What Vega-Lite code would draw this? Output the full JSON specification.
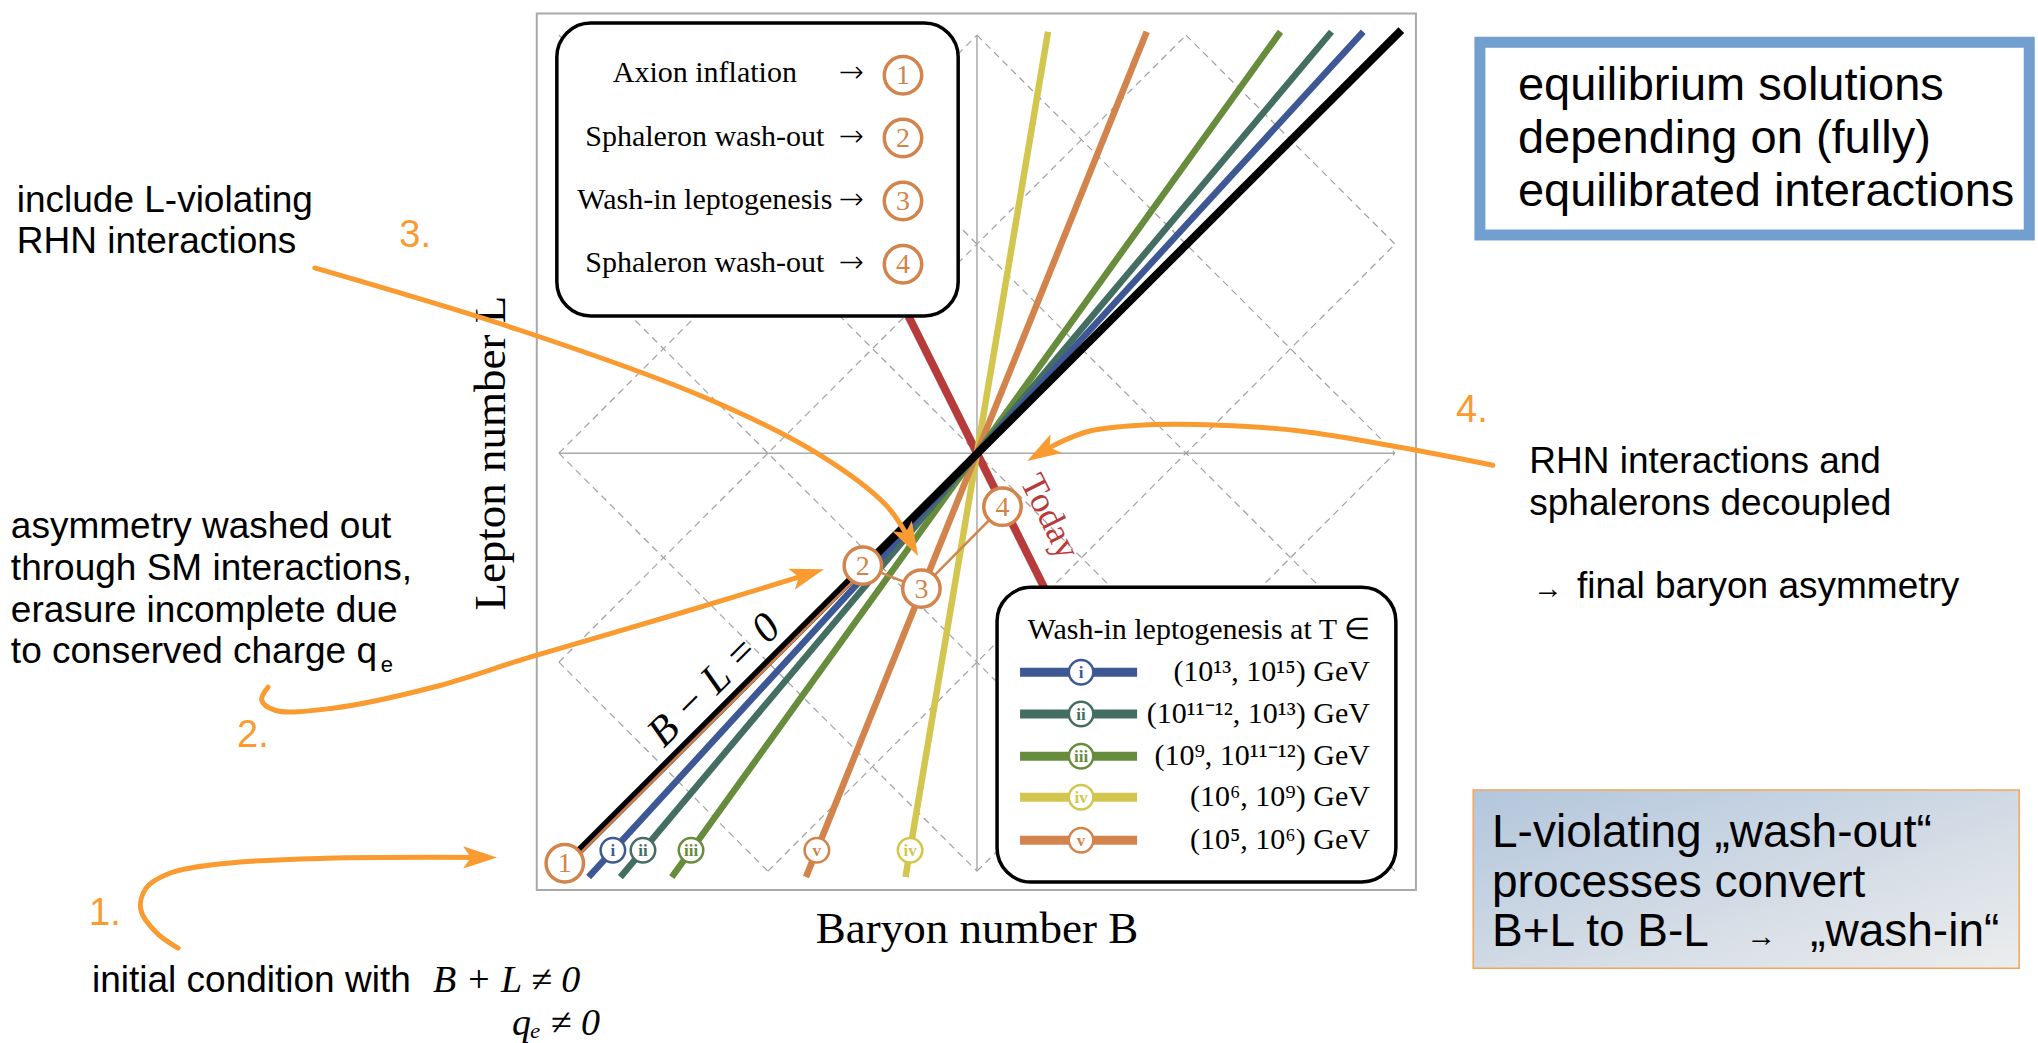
{
"$schema": "https://vega.github.io/schema/vega-lite/v6.json",
"width": 2038, "height": 1043, "autosize": {"type": "none"}, "padding": 0,
"background": "white",
"config": {"view": {"stroke": null}},
"datasets": {
 "frame": [{"x": -1.053, "x2": 1.05, "y": -1.045, "y2": 1.052}],
 "axes": [{"x": -1, "y": 0, "x2": 1, "y2": 0}, {"x": 0, "y": -1, "x2": 0, "y2": 1}],
 "grid": [
  {"x": -1, "y": -0.5, "x2": -0.5, "y2": -1}, {"x": -1, "y": 0, "x2": 0, "y2": -1}, {"x": -1, "y": 0.5, "x2": 0.5, "y2": -1}, {"x": -1, "y": 1, "x2": 1, "y2": -1}, {"x": -0.5, "y": 1, "x2": 1, "y2": -0.5}, {"x": 0, "y": 1, "x2": 1, "y2": 0}, {"x": 0.5, "y": 1, "x2": 1, "y2": 0.5},
  {"x": -1, "y": 0.5, "x2": -0.5, "y2": 1}, {"x": -1, "y": 0, "x2": 0, "y2": 1}, {"x": -1, "y": -0.5, "x2": 0.5, "y2": 1}, {"x": -1, "y": -1, "x2": 1, "y2": 1}, {"x": -0.5, "y": -1, "x2": 1, "y2": 0.5}, {"x": 0, "y": -1, "x2": 1, "y2": 0}, {"x": 0.5, "y": -1, "x2": 1, "y2": -0.5}
 ],
 "today": [{"x": -0.24, "y": 0.48, "x2": 0.24, "y2": -0.48}],
 "wash": [
  {"s": "iv", "x": -0.171, "y": -1.014, "x2": 0.170, "y2": 1.008},
  {"s": "v", "x": -0.409, "y": -1.014, "x2": 0.406, "y2": 1.008},
  {"s": "iii", "x": -0.730, "y": -1.014, "x2": 0.726, "y2": 1.008},
  {"s": "ii", "x": -0.853, "y": -1.014, "x2": 0.848, "y2": 1.008},
  {"s": "i", "x": -0.929, "y": -1.014, "x2": 0.924, "y2": 1.008}
 ],
 "bl0": [{"x": -0.99, "y": -0.99, "x2": 1.015, "y2": 1.012}],
 "boxes": [{"x": -1.005, "x2": -0.045, "y": 0.328, "y2": 1.029}, {"x": 0.048, "x2": 1.002, "y": -1.026, "y2": -0.321}],
 "path": [
  {"x": -0.966, "y": -0.974, "x2": -0.266, "y2": -0.276},
  {"x": -0.273, "y": -0.269, "x2": -0.133, "y2": -0.324},
  {"x": -0.133, "y": -0.324, "x2": 0.061, "y2": -0.128}
 ],
 "steps": [
  {"x": -0.986, "y": -0.981, "n": "1"}, {"x": -0.273, "y": -0.269, "n": "2"}, {"x": -0.133, "y": -0.324, "n": "3"}, {"x": 0.061, "y": -0.128, "n": "4"},
  {"x": -0.177, "y": 0.904, "n": "1"}, {"x": -0.177, "y": 0.754, "n": "2"}, {"x": -0.177, "y": 0.603, "n": "3"}, {"x": -0.177, "y": 0.452, "n": "4"}
 ],
 "legendlines": [
  {"s": "i", "x": 0.103, "x2": 0.383, "y": -0.524}, {"s": "ii", "x": 0.103, "x2": 0.383, "y": -0.624}, {"s": "iii", "x": 0.103, "x2": 0.383, "y": -0.725}, {"s": "iv", "x": 0.103, "x2": 0.383, "y": -0.823}, {"s": "v", "x": 0.103, "x2": 0.383, "y": -0.926}
 ],
 "marks": [
  {"x": -0.871, "y": -0.95, "s": "i"}, {"x": -0.799, "y": -0.95, "s": "ii"}, {"x": -0.684, "y": -0.95, "s": "iii"}, {"x": -0.383, "y": -0.95, "s": "v"}, {"x": -0.16, "y": -0.95, "s": "iv"},
  {"x": 0.249, "y": -0.524, "s": "i"}, {"x": 0.249, "y": -0.624, "s": "ii"}, {"x": 0.249, "y": -0.725, "s": "iii"}, {"x": 0.249, "y": -0.823, "s": "iv"}, {"x": 0.249, "y": -0.926, "s": "v"}
 ],
 "steptexts": [
  {"x": -0.651, "y": 0.909, "t": "Axion inflation"}, {"x": -0.651, "y": 0.756, "t": "Sphaleron wash-out"}, {"x": -0.651, "y": 0.605, "t": "Wash-in leptogenesis"}, {"x": -0.651, "y": 0.455, "t": "Sphaleron wash-out"}
 ],
 "steparrows": [
  {"x": -0.301, "y": 0.909, "t": "→"}, {"x": -0.301, "y": 0.756, "t": "→"}, {"x": -0.301, "y": 0.605, "t": "→"}, {"x": -0.301, "y": 0.455, "t": "→"}
 ],
 "ranges": [
  {"x": 0.94, "y": -0.524, "t": "(10¹³, 10¹⁵) GeV"},
  {"x": 0.94, "y": -0.624, "t": "(10¹¹⁻¹², 10¹³) GeV"},
  {"x": 0.94, "y": -0.725, "t": "(10⁹, 10¹¹⁻¹²) GeV"},
  {"x": 0.94, "y": -0.823, "t": "(10⁶, 10⁹) GeV"},
  {"x": 0.94, "y": -0.926, "t": "(10⁵, 10⁶) GeV"}
 ],
 "rtitle": [{"x": 0.94, "y": -0.423, "t": "Wash-in leptogenesis at T ∈"}],
 "todaylabel": [{"x": 0.174, "y": -0.152, "t": "Today"}],
 "bllabel": [{"x": -0.629, "y": -0.543, "t": "B − L = 0"}],
 "xlabel": [{"x": 0, "y": -1.139, "t": "Baryon number B"}],
 "ylabel": [{"x": -1.163, "y": 0, "t": "Lepton number L"}],
 "notes": [
  {"x": -2.297, "y": 0.577, "t": "include L-violating"},
  {"x": -2.297, "y": 0.478, "t": "RHN interactions"},
  {"x": -2.311, "y": -0.203, "t": "asymmetry washed out"},
  {"x": -2.311, "y": -0.304, "t": "through SM interactions,"},
  {"x": -2.311, "y": -0.404, "t": "erasure incomplete due"},
  {"x": -2.311, "y": -0.502, "t": "to conserved charge q"},
  {"x": -2.117, "y": -1.289, "t": "initial condition with"},
  {"x": 1.321, "y": -0.048, "t": "RHN interactions and"},
  {"x": 1.321, "y": -0.148, "t": "sphalerons decoupled"},
  {"x": 1.435, "y": -0.347, "t": "final baryon asymmetry"}
 ],
 "subs": [{"x": -1.426, "y": -0.524, "t": "e"}],
 "smallarrows": [{"x": 1.33, "y": -0.347, "t": "→"}, {"x": 1.84, "y": -1.179, "t": "→"}],
 "math": [{"x": -1.301, "y": -1.289, "t": "B + L ≠ 0"}],
 "math2": [{"x": -0.902, "y": -1.392, "t": "qₑ ≠ 0"}],
 "bluebox": [{"x": 1.203, "x2": 2.517, "y": 0.522, "y2": 0.983}],
 "bluetexts": [
  {"x": 1.294, "y": 0.844, "t": "equilibrium solutions"},
  {"x": 1.294, "y": 0.718, "t": "depending on (fully)"},
  {"x": 1.294, "y": 0.591, "t": "equilibrated interactions"}
 ],
 "gradbox": [{"x": 1.187, "x2": 2.493, "y": -1.232, "y2": -0.806}],
 "gradtexts": [
  {"x": 1.232, "y": -0.943, "t": "L-violating „wash-out“"},
  {"x": 1.232, "y": -1.062, "t": "processes convert"},
  {"x": 1.232, "y": -1.179, "t": "B+L to B-L"},
  {"x": 1.993, "y": -1.179, "t": "„wash-in“"}
 ],
 "curves": [
  {"a": 1, "i": 0, "x": -1.911, "y": -1.184}, {"a": 1, "i": 1, "x": -1.962, "y": -1.148}, {"a": 1, "i": 2, "x": -2.0, "y": -1.093}, {"a": 1, "i": 3, "x": -1.988, "y": -1.041}, {"a": 1, "i": 4, "x": -1.931, "y": -1.005}, {"a": 1, "i": 5, "x": -1.794, "y": -0.981}, {"a": 1, "i": 6, "x": -1.555, "y": -0.969}, {"a": 1, "i": 7, "x": -1.189, "y": -0.967},
  {"a": 2, "i": 0, "x": -1.696, "y": -0.56}, {"a": 2, "i": 1, "x": -1.711, "y": -0.591}, {"a": 2, "i": 2, "x": -1.679, "y": -0.615}, {"a": 2, "i": 3, "x": -1.541, "y": -0.61}, {"a": 2, "i": 4, "x": -1.301, "y": -0.56}, {"a": 2, "i": 5, "x": -1.069, "y": -0.488}, {"a": 2, "i": 6, "x": -0.711, "y": -0.383}, {"a": 2, "i": 7, "x": -0.411, "y": -0.292},
  {"a": 3, "i": 0, "x": -1.584, "y": 0.443}, {"a": 3, "i": 1, "x": -1.093, "y": 0.294}, {"a": 3, "i": 2, "x": -0.658, "y": 0.136}, {"a": 3, "i": 3, "x": -0.383, "y": 0.0}, {"a": 3, "i": 4, "x": -0.218, "y": -0.124}, {"a": 3, "i": 5, "x": -0.165, "y": -0.201},
  {"a": 4, "i": 0, "x": 1.234, "y": -0.029}, {"a": 4, "i": 1, "x": 1.012, "y": 0.014}, {"a": 4, "i": 2, "x": 0.773, "y": 0.053}, {"a": 4, "i": 3, "x": 0.579, "y": 0.067}, {"a": 4, "i": 4, "x": 0.39, "y": 0.067}, {"a": 4, "i": 5, "x": 0.27, "y": 0.053}, {"a": 4, "i": 6, "x": 0.199, "y": 0.026}, {"a": 4, "i": 7, "x": 0.156, "y": 0.002}
 ],
 "heads": [
  {"a": 1, "x": -1.148, "y": -0.967}, {"a": 2, "x": -0.366, "y": -0.278}, {"a": 3, "x": -0.141, "y": -0.246}, {"a": 4, "x": 0.12, "y": -0.019}
 ],
 "nums": [
  {"x": -2.086, "y": -1.103, "t": "1."}, {"x": -1.732, "y": -0.677, "t": "2."}, {"x": -1.344, "y": 0.519, "t": "3."}, {"x": 1.184, "y": 0.1, "t": "4."}
 ]
},
"encoding": {
 "x": {"field": "x", "type": "quantitative", "scale": {"domain": [-2.337, 2.538], "nice": false, "zero": false}, "axis": null},
 "y": {"field": "y", "type": "quantitative", "scale": {"domain": [-1.411, 1.084], "nice": false, "zero": false}, "axis": null}
},
"layer": [
 {"data": {"name": "frame"}, "mark": {"type": "rect", "filled": false, "stroke": "#a9a9a9", "strokeWidth": 2}, "encoding": {"x2": {"field": "x2"}, "y2": {"field": "y2"}}},
 {"data": {"name": "axes"}, "mark": {"type": "rule", "color": "#a9a9a9", "strokeWidth": 1.5}, "encoding": {"x2": {"field": "x2"}, "y2": {"field": "y2"}}},
 {"data": {"name": "grid"}, "mark": {"type": "rule", "color": "#a0a0a0", "strokeWidth": 1.2, "strokeDash": [7, 5]}, "encoding": {"x2": {"field": "x2"}, "y2": {"field": "y2"}}},
 {"data": {"name": "today"}, "mark": {"type": "rule", "color": "#b83b3b", "strokeWidth": 8}, "encoding": {"x2": {"field": "x2"}, "y2": {"field": "y2"}}},
 {"data": {"name": "wash"}, "mark": {"type": "rule", "strokeWidth": 6.5}, "encoding": {"x2": {"field": "x2"}, "y2": {"field": "y2"}, "color": {"field": "s", "type": "nominal", "scale": {"domain": ["i", "ii", "iii", "iv", "v"], "range": ["#3e5896", "#456e63", "#678c3b", "#d3c64e", "#d2844c"]}, "legend": null}}},
 {"data": {"name": "bl0"}, "mark": {"type": "rule", "color": "black", "strokeWidth": 8}, "encoding": {"x2": {"field": "x2"}, "y2": {"field": "y2"}}},
 {"data": {"name": "boxes"}, "mark": {"type": "rect", "fill": "white", "stroke": "black", "strokeWidth": 3.5, "cornerRadius": 34}, "encoding": {"x2": {"field": "x2"}, "y2": {"field": "y2"}}},
 {"data": {"name": "path"}, "mark": {"type": "rule", "color": "#d2844c", "strokeWidth": 2.5}, "encoding": {"x2": {"field": "x2"}, "y2": {"field": "y2"}}},
 {"data": {"name": "legendlines"}, "mark": {"type": "rule", "strokeWidth": 9}, "encoding": {"x2": {"field": "x2"}, "color": {"field": "s", "type": "nominal", "scale": {"domain": ["i", "ii", "iii", "iv", "v"], "range": ["#3e5896", "#456e63", "#678c3b", "#d3c64e", "#d2844c"]}, "legend": null}}},
 {"data": {"name": "steps"}, "mark": {"type": "point", "shape": "circle", "size": 1400, "fill": "white", "fillOpacity": 1, "stroke": "#d2844c", "strokeWidth": 3.5, "opacity": 1}},
 {"data": {"name": "steps"}, "mark": {"type": "text", "font": "Liberation Serif", "fontSize": 28, "color": "#d2844c", "align": "center", "baseline": "middle", "dy": 1}, "encoding": {"text": {"field": "n", "type": "nominal"}}},
 {"data": {"name": "marks"}, "mark": {"type": "point", "shape": "circle", "size": 600, "fill": "white", "fillOpacity": 1, "strokeWidth": 2.5, "opacity": 1}, "encoding": {"stroke": {"field": "s", "type": "nominal", "scale": {"domain": ["i", "ii", "iii", "iv", "v"], "range": ["#3e5896", "#456e63", "#678c3b", "#d3c64e", "#d2844c"]}, "legend": null}}},
 {"data": {"name": "marks"}, "mark": {"type": "text", "font": "Liberation Serif", "fontSize": 17, "fontWeight": "bold", "align": "center", "baseline": "middle", "dy": 1}, "encoding": {"text": {"field": "s", "type": "nominal"}, "color": {"field": "s", "type": "nominal", "scale": {"domain": ["i", "ii", "iii", "iv", "v"], "range": ["#3e5896", "#456e63", "#678c3b", "#d3c64e", "#d2844c"]}, "legend": null}}},
 {"data": {"name": "todaylabel"}, "mark": {"type": "text", "font": "Liberation Serif", "fontSize": 36, "color": "#b83b3b", "align": "center", "baseline": "middle", "angle": 63.4}, "encoding": {"text": {"field": "t", "type": "nominal"}}},
 {"data": {"name": "bllabel"}, "mark": {"type": "text", "font": "Liberation Serif", "fontStyle": "italic", "fontSize": 42, "color": "black", "align": "center", "baseline": "middle", "angle": -45}, "encoding": {"text": {"field": "t", "type": "nominal"}}},
 {"data": {"name": "steptexts"}, "mark": {"type": "text", "font": "Liberation Serif", "fontSize": 30, "color": "black", "align": "center", "baseline": "middle"}, "encoding": {"text": {"field": "t", "type": "nominal"}}},
 {"data": {"name": "steparrows"}, "mark": {"type": "text", "font": "DejaVu Sans", "fontWeight": 300, "fontSize": 30, "color": "black", "align": "center", "baseline": "middle"}, "encoding": {"text": {"field": "t", "type": "nominal"}}},
 {"data": {"name": "rtitle"}, "mark": {"type": "text", "font": "Liberation Serif", "fontSize": 30, "color": "black", "align": "right", "baseline": "middle"}, "encoding": {"text": {"field": "t", "type": "nominal"}}},
 {"data": {"name": "ranges"}, "mark": {"type": "text", "font": "Liberation Serif", "fontSize": 30, "color": "black", "align": "right", "baseline": "middle"}, "encoding": {"text": {"field": "t", "type": "nominal"}}},
 {"data": {"name": "xlabel"}, "mark": {"type": "text", "font": "Liberation Serif", "fontSize": 45, "color": "black", "align": "center", "baseline": "middle"}, "encoding": {"text": {"field": "t", "type": "nominal"}}},
 {"data": {"name": "ylabel"}, "mark": {"type": "text", "font": "Liberation Serif", "fontSize": 45, "color": "black", "align": "center", "baseline": "middle", "angle": -90}, "encoding": {"text": {"field": "t", "type": "nominal"}}},
 {"data": {"name": "notes"}, "mark": {"type": "text", "font": "Liberation Sans", "fontSize": 37, "color": "black", "align": "left", "baseline": "alphabetic"}, "encoding": {"text": {"field": "t", "type": "nominal"}}},
 {"data": {"name": "subs"}, "mark": {"type": "text", "font": "Liberation Sans", "fontSize": 22, "color": "black", "align": "left", "baseline": "alphabetic"}, "encoding": {"text": {"field": "t", "type": "nominal"}}},
 {"data": {"name": "math"}, "mark": {"type": "text", "font": "Liberation Serif", "fontStyle": "italic", "fontSize": 38, "color": "black", "align": "left", "baseline": "alphabetic"}, "encoding": {"text": {"field": "t", "type": "nominal"}}},
 {"data": {"name": "math2"}, "mark": {"type": "text", "font": "Liberation Serif", "fontStyle": "italic", "fontSize": 38, "color": "black", "align": "right", "baseline": "alphabetic"}, "encoding": {"text": {"field": "t", "type": "nominal"}}},
 {"data": {"name": "bluebox"}, "mark": {"type": "rect", "fill": "white", "stroke": "#729fcf", "strokeWidth": 11}, "encoding": {"x2": {"field": "x2"}, "y2": {"field": "y2"}}},
 {"data": {"name": "bluetexts"}, "mark": {"type": "text", "font": "Liberation Sans", "fontSize": 47, "color": "black", "align": "left", "baseline": "alphabetic"}, "encoding": {"text": {"field": "t", "type": "nominal"}}},
 {"data": {"name": "gradbox"}, "mark": {"type": "rect", "fill": {"gradient": "linear", "x1": 0, "y1": 0, "x2": 1, "y2": 1, "stops": [{"offset": 0, "color": "#b3c6dc"}, {"offset": 1, "color": "#eceded"}]}, "stroke": "#f5a55a", "strokeWidth": 1.5}, "encoding": {"x2": {"field": "x2"}, "y2": {"field": "y2"}}},
 {"data": {"name": "gradtexts"}, "mark": {"type": "text", "font": "Liberation Sans", "fontSize": 46, "color": "black", "align": "left", "baseline": "alphabetic"}, "encoding": {"text": {"field": "t", "type": "nominal"}}},
 {"data": {"name": "smallarrows"}, "mark": {"type": "text", "font": "Liberation Serif", "fontSize": 30, "color": "black", "align": "left", "baseline": "alphabetic"}, "encoding": {"text": {"field": "t", "type": "nominal"}}},
 {"data": {"name": "curves"}, "mark": {"type": "line", "color": "#f99b31", "strokeWidth": 5, "interpolate": "catmull-rom", "strokeCap": "round"}, "encoding": {"detail": {"field": "a", "type": "nominal"}, "order": {"field": "i", "type": "quantitative"}}},
 {"data": {"name": "heads"}, "transform": [{"filter": "datum.a == 1"}], "mark": {"type": "point", "shape": "M0,0L-2,-0.65L-1.55,0L-2,0.65Z", "size": 1150, "filled": true, "color": "#f99b31", "opacity": 1, "angle": 0}},
 {"data": {"name": "heads"}, "transform": [{"filter": "datum.a == 2"}], "mark": {"type": "point", "shape": "M0,0L-2,-0.65L-1.55,0L-2,0.65Z", "size": 1150, "filled": true, "color": "#f99b31", "opacity": 1, "angle": -17}},
 {"data": {"name": "heads"}, "transform": [{"filter": "datum.a == 3"}], "mark": {"type": "point", "shape": "M0,0L-2,-0.65L-1.55,0L-2,0.65Z", "size": 1150, "filled": true, "color": "#f99b31", "opacity": 1, "angle": 62}},
 {"data": {"name": "heads"}, "transform": [{"filter": "datum.a == 4"}], "mark": {"type": "point", "shape": "M0,0L-2,-0.65L-1.55,0L-2,0.65Z", "size": 1150, "filled": true, "color": "#f99b31", "opacity": 1, "angle": 149}},
 {"data": {"name": "nums"}, "mark": {"type": "text", "font": "Liberation Sans", "fontSize": 38, "color": "#f99b31", "align": "center", "baseline": "middle"}, "encoding": {"text": {"field": "t", "type": "nominal"}}}
]
}
